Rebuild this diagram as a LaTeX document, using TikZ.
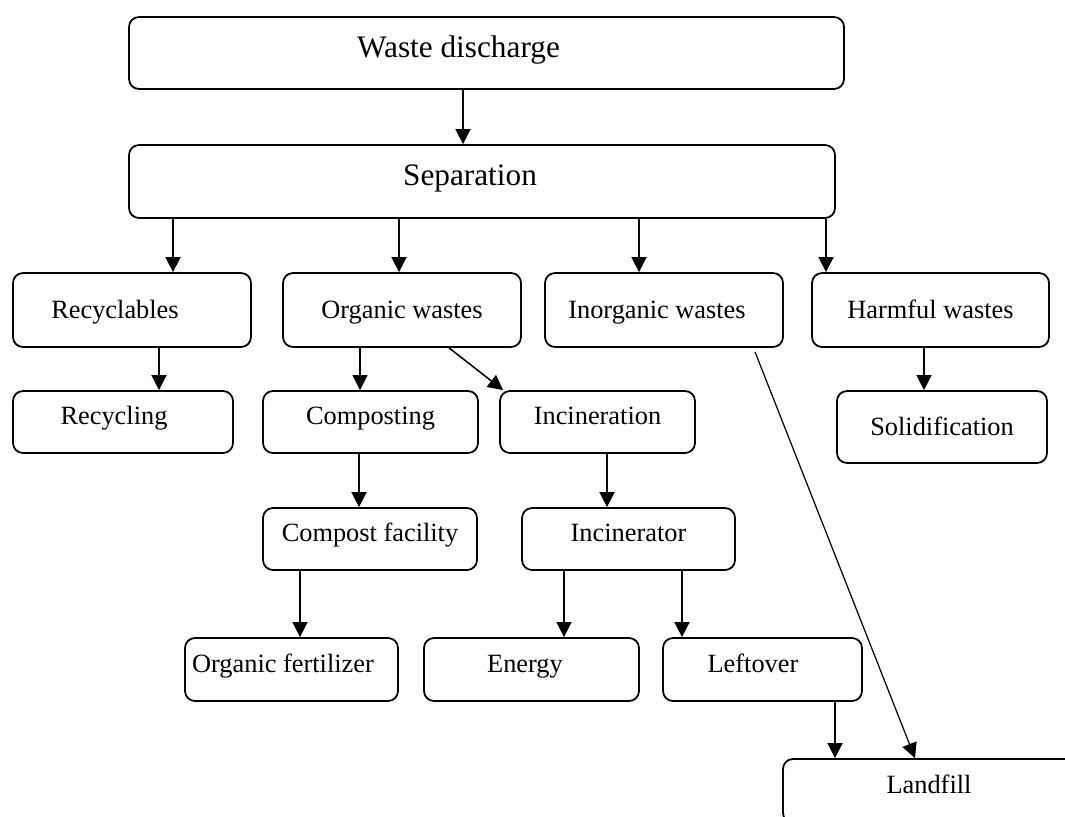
\documentclass[tikz,border=0pt]{standalone}
\usepackage{fontspec}
\setmainfont{Liberation Serif}
\usetikzlibrary{arrows.meta,positioning,calc}

\begin{document}
\begin{tikzpicture}[>={Triangle[length=0.30cm,width=0.30cm]},x=1.000cm,y=1.000cm,line width=0.9pt,
 box/.style={draw,line width=1pt,rounded corners=0.2cm,inner sep=0pt,font=\fontsize{15}{18}\selectfont,
   text height=0.40cm,text depth=0.29cm},
 mid/.style={text height=0.50cm,text depth=0.15cm},
 big/.style={font=\fontsize{17.8}{21}\selectfont,text height=0.47cm,text depth=0.30cm},
 lpad/.style={execute at end node={\hspace*{#1}}}]
\clip (0,0) rectangle (21.300,-16.340);
% top row
\node[box,big,lpad=1.12cm,minimum width=14.30cm,minimum height=1.44cm] (wd) at (9.730,-1.060) {Waste discharge};
\node[box,big,lpad=0.48cm,minimum width=14.12cm,minimum height=1.46cm] (sep) at (9.640,-3.630) {Separation};
% kinds of waste
\node[box,mid,lpad=0.68cm,minimum width=4.76cm,minimum height=1.48cm] (rcb) at (2.640,-6.200) {Recyclables};
\node[box,mid,minimum width=4.76cm,minimum height=1.48cm] (org) at (8.040,-6.200) {Organic wastes};
\node[box,mid,lpad=0.28cm,minimum width=4.76cm,minimum height=1.48cm] (inorg) at (13.280,-6.200) {Inorganic wastes};
\node[box,mid,minimum width=4.74cm,minimum height=1.48cm] (harm) at (18.610,-6.200) {Harmful wastes};
% treatment
\node[box,lpad=0.36cm,minimum width=4.40cm,minimum height=1.24cm] (rcl) at (2.460,-8.440) {Recycling};
\node[box,minimum width=4.30cm,minimum height=1.24cm] (comp) at (7.410,-8.440) {Composting};
\node[box,minimum width=3.90cm,minimum height=1.24cm] (incin) at (11.950,-8.440) {Incineration};
\node[box,mid,minimum width=4.20cm,minimum height=1.44cm] (solid) at (18.840,-8.540) {Solidification};
\node[box,minimum width=4.28cm,minimum height=1.24cm] (cfac) at (7.400,-10.780) {Compost facility};
\node[box,minimum width=4.26cm,minimum height=1.24cm] (incr) at (12.570,-10.780) {Incinerator};
% products
\node[box,lpad=0.34cm,minimum width=4.26cm,minimum height=1.26cm] (fert) at (5.830,-13.390) {Organic fertilizer};
\node[box,lpad=0.26cm,minimum width=4.30cm,minimum height=1.26cm] (ener) at (10.630,-13.390) {Energy};
\node[box,lpad=0.38cm,minimum width=3.98cm,minimum height=1.26cm] (left) at (15.250,-13.390) {Leftover};
\node[box,minimum width=5.84cm,minimum height=1.28cm] (land) at (18.580,-15.820) {Landfill};
% arrows
\draw[->] ([xshift=-0.38cm]sep.north |- wd.south) -- ([xshift=-0.38cm]sep.north);
\draw[->] ([xshift=0.82cm]rcb.north |- sep.south) -- ([xshift=0.82cm]rcb.north);
\draw[->] ([xshift=-0.06cm]org.north |- sep.south) -- ([xshift=-0.06cm]org.north);
\draw[->] ([xshift=-0.50cm]inorg.north |- sep.south) -- ([xshift=-0.50cm]inorg.north);
\draw[->] ([xshift=-2.09cm]harm.north |- sep.south) -- ([xshift=-2.09cm]harm.north);
\draw[->] ([xshift=0.72cm]rcl.north |- rcb.south) -- ([xshift=0.72cm]rcl.north);
\draw[->] ([xshift=-0.21cm]comp.north |- org.south) -- ([xshift=-0.21cm]comp.north);
\draw[->] ([xshift=0.94cm]org.south) -- ([xshift=0.08cm]incin.north west);
\draw[->] ([xshift=-0.36cm]solid.north |- harm.south) -- ([xshift=-0.36cm]solid.north);
\draw[->] ([xshift=-0.22cm]cfac.north |- comp.south) -- ([xshift=-0.22cm]cfac.north);
\draw[->] ([xshift=-0.43cm]incr.north |- incin.south) -- ([xshift=-0.43cm]incr.north);
\draw[->] ([xshift=0.17cm]fert.north |- cfac.south) -- ([xshift=0.17cm]fert.north);
\draw[->] ([xshift=0.65cm]ener.north |- incr.south) -- ([xshift=0.65cm]ener.north);
\draw[->] ([xshift=-1.61cm]left.north |- incr.south) -- ([xshift=-1.61cm]left.north);
\draw[->] ([xshift=-1.88cm]land.north |- left.south) -- ([xshift=-1.88cm]land.north);
\draw[->,line width=0.7pt] ([xshift=1.82cm,yshift=-0.08cm]inorg.south) -- ([xshift=-0.28cm]land.north);
\end{tikzpicture}
\end{document}
